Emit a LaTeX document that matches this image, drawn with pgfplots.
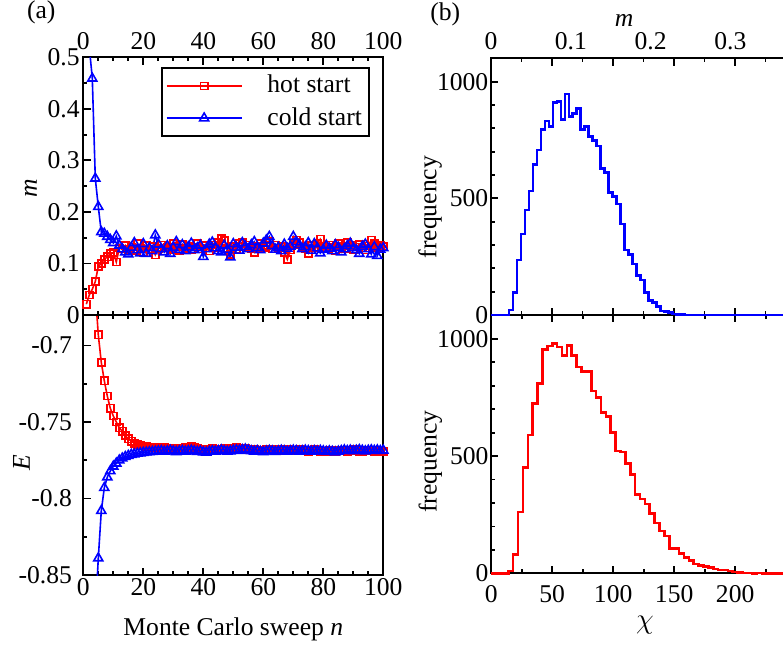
\documentclass[border=0pt]{standalone}
\usepackage{pgfplots}
\pgfplotsset{compat=1.18}
\usepackage{fontspec}
\setmainfont{Liberation Serif}
\definecolor{hotred}{RGB}{255,0,0}
\definecolor{coldblue}{RGB}{0,0,255}
\pgfplotsset{
  myaxis/.style={
    scale only axis,
    /pgf/number format/assume math mode=true,
    /pgf/number format/set thousands separator={},
    axis line style={line width=1pt},
    tick style={line width=0.9pt, black},
    major tick length=3.6pt,
    minor tick length=2pt,
    tick align=inside,
    ytick pos=left,
    every tick label/.append style={inner sep=1.5pt},
  },
  hotstyle/.style={color=hotred, line width=0.8pt, mark=square, mark size=1.8pt, mark options={solid, line width=0.8pt}},
  coldstyle/.style={color=coldblue, line width=0.8pt, mark=triangle, mark size=2.6pt, mark options={solid, line width=0.8pt}},
}
\begin{document}
\fontsize{12.8}{15}\selectfont
\begin{tikzpicture}
\useasboundingbox (0,0) rectangle (391.5pt,322.5pt);

% ---------------- bottom right: chi histogram ----------------
\begin{axis}[myaxis, at={(245.6pt,35.85pt)}, anchor=south west,
  width=152.5pt, height=129.15pt,
  xmin=0, xmax=250, ymin=0, ymax=1102,
  xtick={0,50,100,150,200}, xticklabels={0,50,100,150,200},
  minor xtick={25,75,125,175,225}, xtick pos=both,
  xticklabel style={yshift=-4.3pt},
  ytick={0,500,1000}, yticklabels={0,500,1000}, minor y tick num=4,
  yticklabel style={inner sep=1.2pt},
  ylabel={frequency},
  ylabel style={at={(axis description cs:-0.1793,0.432)}, anchor=base},
  clip=false,
]
\addplot[const plot mark left, color=hotred, line width=1.3pt] coordinates {
(0,0)(14,10)(18,80)(22,261)(26,451)(30,590)(34,724)(38,811)(42,955)(46,970)
(50,981)(54,965)(58,930)(62,971)(66,928)(70,880)(74,862)(78,860)(82,777)(86,751)
(90,686)(94,668)(98,600)(102,522)(106,517)(110,469)(114,421)(118,336)(122,317)(126,296)
(130,256)(134,214)(138,181)(142,160)(146,107)(150,106)(154,85)(158,68)(162,54)(166,40)
(170,33)(174,28)(178,24)(182,18)(186,14)(190,14)(194,10)(198,6)(202,3)(206,2)
(210,1)(214,0)(218,1)(222,0)(250,0)
};
\end{axis}

% ---------------- bottom left: E ----------------
\begin{axis}[myaxis, at={(41.65pt,35pt)}, anchor=south west,
  width=150pt, height=130pt,
  xmin=0, xmax=100, ymin=-0.85, ymax=-0.68,
  xtick={0,20,40,60,80,100}, xticklabels={0,20,40,60,80,100}, minor x tick num=3, xtick pos=both,
  ytick={-0.85,-0.8,-0.75,-0.7}, yticklabels={-0.85,-0.8,-0.75,-0.7}, minor y tick num=1,
  yticklabel style={xshift=-4pt},
  xlabel={Monte Carlo sweep \textit{n}}, ylabel={\textit{E}},
  xlabel style={at={(axis description cs:0.5,-0.231)}, anchor=base},
  ylabel style={at={(axis description cs:-0.178,0.433)}, anchor=base},
]
\addplot[hotstyle] coordinates {
(1,-0.55)(2,-0.60)(3,-0.635)(4,-0.665)(5,-0.693)(6,-0.711)(7,-0.723)(8,-0.733)(9,-0.741)(10,-0.746)
(11,-0.750)(12,-0.7537)(13,-0.756)(14,-0.7588)(15,-0.761)(16,-0.7625)(17,-0.7638)(18,-0.7647)(19,-0.7653)(20,-0.7657)
(21,-0.7660)(22,-0.7663)(23,-0.7665)(24,-0.7667)(25,-0.7668)(26,-0.7672)(27,-0.7668)(28,-0.7675)(29,-0.7670)(30,-0.7673)
(31,-0.7678)(32,-0.7670)(33,-0.7674)(34,-0.7668)(35,-0.7665)(36,-0.7662)(37,-0.7666)(38,-0.7671)(39,-0.7676)(40,-0.7680)
(41,-0.7684)(42,-0.7679)(43,-0.7674)(44,-0.7676)(45,-0.7681)(46,-0.7677)(47,-0.7672)(48,-0.7669)(49,-0.7673)(50,-0.7670)
(51,-0.7667)(52,-0.7671)(53,-0.7675)(54,-0.7672)(55,-0.7678)(56,-0.7682)(57,-0.7679)(58,-0.7684)(59,-0.7687)(60,-0.7683)
(61,-0.7680)(62,-0.7676)(63,-0.7681)(64,-0.7686)(65,-0.7684)(66,-0.7680)(67,-0.7677)(68,-0.7681)(69,-0.7685)(70,-0.7688)
(71,-0.7684)(72,-0.7680)(73,-0.7683)(74,-0.7687)(75,-0.7691)(76,-0.7686)(77,-0.7682)(78,-0.7686)(79,-0.7690)(80,-0.7694)
(81,-0.7690)(82,-0.7686)(83,-0.7689)(84,-0.7693)(85,-0.7688)(86,-0.7684)(87,-0.7687)(88,-0.7691)(89,-0.7686)(90,-0.7682)
(91,-0.7685)(92,-0.7690)(93,-0.7694)(94,-0.7689)(95,-0.7685)(96,-0.7688)(97,-0.7692)(98,-0.7696)(99,-0.7693)(100,-0.7690)
};
\addplot[coldstyle] coordinates {
(1,-1.00)(2,-0.95)(3,-0.91)(4,-0.876)(5,-0.839)(6,-0.808)(7,-0.793)(8,-0.786)(9,-0.782)(10,-0.779)
(11,-0.777)(12,-0.775)(13,-0.7737)(14,-0.7727)(15,-0.7720)(16,-0.7713)(17,-0.7710)(18,-0.7706)(19,-0.7703)(20,-0.7700)
(21,-0.7698)(22,-0.7696)(23,-0.7694)(24,-0.7692)(25,-0.7690)(26,-0.7688)(27,-0.7693)(28,-0.7690)(29,-0.7686)(30,-0.7691)
(31,-0.7695)(32,-0.7690)(33,-0.7687)(34,-0.7692)(35,-0.7689)(36,-0.7685)(37,-0.7690)(38,-0.7694)(39,-0.7691)(40,-0.7697)
(41,-0.7699)(42,-0.7693)(43,-0.7689)(44,-0.7692)(45,-0.7688)(46,-0.7684)(47,-0.7689)(48,-0.7693)(49,-0.7690)(50,-0.7686)
(51,-0.7683)(52,-0.7687)(53,-0.7682)(54,-0.7678)(55,-0.7684)(56,-0.7689)(57,-0.7692)(58,-0.7688)(59,-0.7693)(60,-0.7696)
(61,-0.7691)(62,-0.7687)(63,-0.7690)(64,-0.7694)(65,-0.7690)(66,-0.7686)(67,-0.7689)(68,-0.7693)(69,-0.7689)(70,-0.7685)
(71,-0.7688)(72,-0.7692)(73,-0.7689)(74,-0.7685)(75,-0.7688)(76,-0.7692)(77,-0.7688)(78,-0.7691)(79,-0.7687)(80,-0.7690)
(81,-0.7694)(82,-0.7690)(83,-0.7693)(84,-0.7697)(85,-0.7692)(86,-0.7688)(87,-0.7684)(88,-0.7688)(89,-0.7685)(90,-0.7689)
(91,-0.7686)(92,-0.7682)(93,-0.7686)(94,-0.7690)(95,-0.7686)(96,-0.7683)(97,-0.7687)(98,-0.7684)(99,-0.7688)(100,-0.7685)
};
\end{axis}

% ---------------- top left: m ----------------
\begin{axis}[myaxis, at={(41.65pt,165pt)}, anchor=south west,
  width=150pt, height=128.85pt,
  xmin=0, xmax=100, ymin=0, ymax=0.5,
  xtick={0,20,40,60,80,100}, xticklabels={0,20,40,60,80,100}, minor x tick num=3,
  xticklabel pos=upper, xtick pos=both,
  xticklabel style={inner sep=3.5pt},
  ytick={0,0.1,0.2,0.3,0.4,0.5}, yticklabels={0,0.1,0.2,0.3,0.4,0.5}, minor y tick num=1,
  yticklabel style={inner sep=1.6pt},
  ylabel={\textit{m}},
  ylabel style={at={(axis description cs:-0.155,0.493)}, anchor=base},
  legend style={at={(0.956,0.962)}, anchor=north east, draw=black, line width=1.1pt,
    inner xsep=2pt, inner ysep=2pt, row sep=2.3pt,
    nodes={inner sep=1.5pt},
    /tikz/every odd column/.append style={column sep=11pt}},
  legend cell align=left,
  legend image code/.code={\draw[mark repeat=2,mark phase=2,#1] plot coordinates {(0pt,0pt) (18.75pt,0pt) (37.5pt,0pt)};},
]
\addplot[hotstyle] coordinates {
(1,0.021)(2,0.039)(3,0.050)(4,0.065)(5,0.094)(6,0.100)(7,0.108)(8,0.113)(9,0.119)(10,0.121)
(11,0.103)(12,0.130)(13,0.128)(14,0.135)(15,0.127)(16,0.132)(17,0.125)(18,0.138)(19,0.130)(20,0.122)
(21,0.135)(22,0.128)(23,0.133)(24,0.117)(25,0.129)(26,0.136)(27,0.124)(28,0.131)(29,0.127)(30,0.139)
(31,0.133)(32,0.125)(33,0.137)(34,0.129)(35,0.134)(36,0.126)(37,0.132)(38,0.138)(39,0.128)(40,0.135)
(41,0.130)(42,0.124)(43,0.136)(44,0.131)(45,0.140)(46,0.148)(47,0.144)(48,0.129)(49,0.118)(50,0.133)
(51,0.127)(52,0.138)(53,0.141)(54,0.132)(55,0.136)(56,0.129)(57,0.122)(58,0.134)(59,0.139)(60,0.131)
(61,0.135)(62,0.142)(63,0.128)(64,0.136)(65,0.130)(66,0.133)(67,0.121)(68,0.108)(69,0.126)(70,0.137)
(71,0.145)(72,0.140)(73,0.132)(74,0.128)(75,0.120)(76,0.135)(77,0.130)(78,0.139)(79,0.147)(80,0.134)
(81,0.128)(82,0.136)(83,0.131)(84,0.125)(85,0.138)(86,0.133)(87,0.129)(88,0.140)(89,0.135)(90,0.127)
(91,0.132)(92,0.137)(93,0.130)(94,0.126)(95,0.134)(96,0.145)(97,0.139)(98,0.131)(99,0.136)(100,0.133)
};
\addlegendentry{hot start}
\addplot[coldstyle] coordinates {
(1,0.80)(2,0.52)(3,0.459)(4,0.265)(5,0.210)(6,0.161)(7,0.158)(8,0.152)(9,0.146)(10,0.140)
(11,0.153)(12,0.135)(13,0.128)(14,0.122)(15,0.118)(16,0.131)(17,0.140)(18,0.126)(19,0.120)(20,0.138)
(21,0.119)(22,0.130)(23,0.124)(24,0.155)(25,0.137)(26,0.128)(27,0.122)(28,0.134)(29,0.119)(30,0.131)
(31,0.142)(32,0.127)(33,0.136)(34,0.124)(35,0.132)(36,0.139)(37,0.126)(38,0.130)(39,0.135)(40,0.113)
(41,0.128)(42,0.137)(43,0.141)(44,0.130)(45,0.124)(46,0.122)(47,0.135)(48,0.127)(49,0.112)(50,0.138)
(51,0.131)(52,0.125)(53,0.140)(54,0.133)(55,0.128)(56,0.136)(57,0.142)(58,0.130)(59,0.126)(60,0.139)
(61,0.145)(62,0.152)(63,0.134)(64,0.127)(65,0.131)(66,0.124)(67,0.137)(68,0.129)(69,0.133)(70,0.152)
(71,0.141)(72,0.136)(73,0.128)(74,0.132)(75,0.140)(76,0.125)(77,0.138)(78,0.130)(79,0.120)(80,0.127)
(81,0.135)(82,0.129)(83,0.124)(84,0.136)(85,0.131)(86,0.122)(87,0.128)(88,0.134)(89,0.139)(90,0.130)
(91,0.126)(92,0.119)(93,0.133)(94,0.137)(95,0.128)(96,0.118)(97,0.132)(98,0.115)(99,0.127)(100,0.130)
};
\addlegendentry{cold start}
\end{axis}

% ---------------- top right: frame with chi ticks ----------------
\begin{axis}[myaxis, at={(245.5pt,165pt)}, anchor=south west,
  width=152.5pt, height=128.35pt,
  xmin=0, xmax=250, ymin=0, ymax=1100,
  xtick={0,50,100,150,200}, xticklabels={}, minor xtick={25,75,125,175,225}, xtick pos=both,
  ytick={0,500,1000}, yticklabels={0,500,1000}, minor y tick num=4,
  yticklabel style={inner sep=1.2pt},
  ylabel={frequency},
  ylabel style={at={(axis description cs:-0.1793,0.42)}, anchor=base},
]
\end{axis}

% ---------------- top right: m histogram ----------------
\begin{axis}[myaxis, at={(245.5pt,165pt)}, anchor=south west,
  width=152.5pt, height=128.35pt,
  xmin=0, xmax=0.3822, ymin=0, ymax=1100,
  axis line style={draw=none},
  xtick={0,0.1,0.2,0.3}, xticklabels={0,0.1,0.2,0.3},
  xticklabel pos=upper, xtick pos=upper, major tick length=0pt,
  xticklabel style={inner sep=4pt},
  ytick=\empty,
  clip=false,
]
\addplot[const plot mark left, color=coldblue, line width=1.3pt] coordinates {
(0,0)(0.0225,21)(0.0275,97)(0.0325,236)(0.0375,347)(0.0425,450)(0.0475,531)(0.0525,646)(0.0575,707)(0.0625,796)
(0.0675,831)(0.0725,807)(0.0775,910)(0.0825,914)(0.0875,839)(0.0925,947)(0.0975,850)(0.1025,864)(0.1075,886)(0.1125,796)
(0.1175,807)(0.1225,764)(0.1275,747)(0.1325,724)(0.1375,629)(0.1425,610)(0.1475,524)(0.1525,507)(0.1575,476)(0.1625,390)
(0.1675,279)(0.1725,260)(0.1775,219)(0.1825,169)(0.1875,150)(0.1925,96)(0.1975,61)(0.2025,54)(0.2075,36)(0.2125,17)
(0.2175,14)(0.2225,10)(0.2275,4)(0.2325,2)(0.2375,1)(0.2425,0)(0.3822,0)
};
\end{axis}

\node[anchor=base west, inner sep=0pt] at (13.3pt,313.2pt) {(a)};
\node[anchor=base west, inner sep=0pt] at (215pt,312.3pt) {(b)};
\node[anchor=base, inner sep=0pt] at (312pt,309.3pt) {\textit{m}};
\node[anchor=base, inner sep=0pt] at (322.5pt,8.5pt) {\fontsize{15}{15}\selectfont$\chi$};
\end{tikzpicture}
\end{document}
